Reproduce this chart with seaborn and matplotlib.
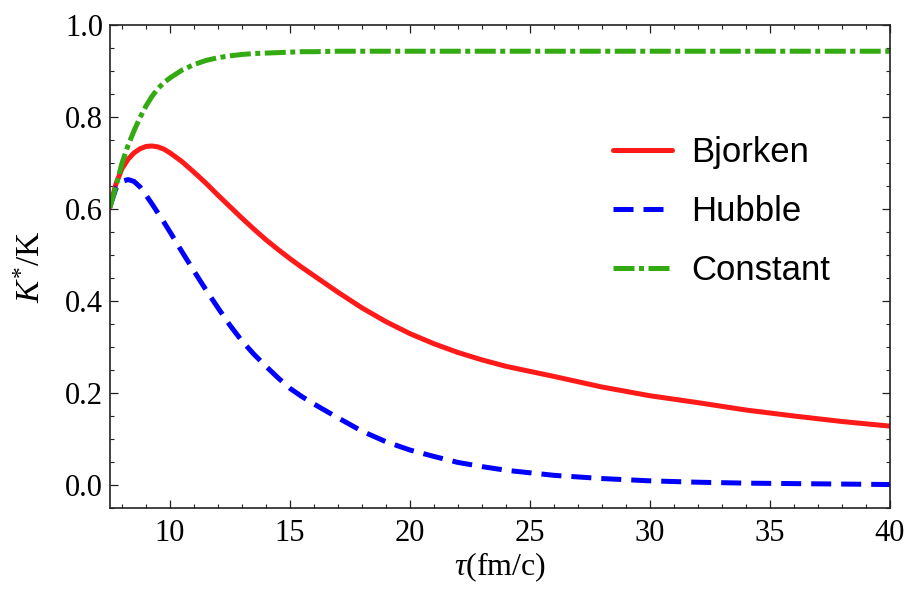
import numpy as np
import pandas as pd
import seaborn as sns
import matplotlib
matplotlib.use("Agg")
import matplotlib.pyplot as plt
from matplotlib.ticker import MultipleLocator

# ---- data ----
tau = [7.5, 7.75, 8.0, 8.25, 8.5, 8.75, 9.0, 9.25, 9.5, 9.75, 10.0, 10.5, 11.0,
       11.5, 12.0, 12.5, 13.0, 13.5, 14.0, 14.5, 15.0, 15.5, 16.0, 17.0, 18.0,
       19.0, 20.0, 21.0, 22.0, 23.0, 24.0, 26.0, 28.0, 30.0, 32.0, 34.0, 36.0,
       38.0, 40.0]
bjorken = [0.605, 0.655, 0.688, 0.708, 0.722, 0.731, 0.736, 0.737, 0.735, 0.730,
           0.722, 0.703, 0.680, 0.656, 0.630, 0.605, 0.580, 0.556, 0.533, 0.512,
           0.492, 0.473, 0.455, 0.419, 0.385, 0.355, 0.329, 0.307, 0.288, 0.272,
           0.258, 0.236, 0.213, 0.194, 0.179, 0.163, 0.150, 0.138, 0.128]
hubble = [0.607, 0.645, 0.660, 0.664, 0.660, 0.648, 0.630, 0.611, 0.591, 0.571,
          0.550, 0.507, 0.465, 0.424, 0.385, 0.347, 0.313, 0.284, 0.258, 0.233,
          0.210, 0.192, 0.176, 0.146, 0.117, 0.094, 0.076, 0.062, 0.049, 0.040,
          0.032, 0.021, 0.014, 0.009, 0.006, 0.004, 0.003, 0.002, 0.001]
constant = [0.603, 0.650, 0.700, 0.738, 0.770, 0.799, 0.824, 0.845, 0.862, 0.875,
            0.885, 0.902, 0.914, 0.923, 0.929, 0.933, 0.936, 0.938, 0.939, 0.940,
            0.941, 0.942, 0.942, 0.943, 0.943, 0.943, 0.943, 0.943, 0.943, 0.943,
            0.943, 0.943, 0.943, 0.943, 0.943, 0.943, 0.943, 0.943, 0.943]
series_names = ["Bjorken", "Hubble", "Constant"]
series_colors = ["#ff1a1a", "#0000ff", "#33aa11"]
x_ticks = [10, 15, 20, 25, 30, 35, 40]
y_ticks = [0.0, 0.2, 0.4, 0.6, 0.8, 1.0]

sns.set_theme(style="ticks")
plt.rcParams["font.family"] = ["Liberation Serif", "DejaVu Serif"]
plt.rcParams["mathtext.fontset"] = "custom"
plt.rcParams["mathtext.rm"] = "Liberation Serif"
plt.rcParams["mathtext.it"] = "Liberation Serif:italic"
plt.rcParams["text.color"] = "black"
plt.rcParams["axes.labelcolor"] = "black"

fig = plt.figure(figsize=(9.1, 5.9), dpi=100)
ax = fig.add_axes([0.1209, 0.139, 0.978 - 0.1209, 0.9576 - 0.139])

styles = ["-", (0, (4.0, 2.0)), (0, (4.2, 0.9, 1.0, 0.9))]
for name, vals, col, ls in zip(series_names, [bjorken, hubble, constant],
                               series_colors, styles):
    sns.lineplot(x=tau, y=vals, ax=ax, color=col, linewidth=3.6,
                 linestyle=ls, label=name, estimator=None, sort=False)
for ln in ax.lines:
    ln.set_solid_joinstyle("round")
    ln.set_dash_capstyle("butt")

ax.set_xlim(7.5, 40)
ax.set_ylim(-0.05, 1.0)
ax.set_xticks(x_ticks)
ax.set_yticks(y_ticks)
ax.set_xticklabels([str(v) for v in x_ticks])
ax.set_yticklabels([f"{v:.1f}" for v in y_ticks])
ax.xaxis.set_minor_locator(MultipleLocator(1))
ax.yaxis.set_minor_locator(MultipleLocator(0.05))
ax.tick_params(which="both", direction="in", top=True, right=True,
               colors="#222222", labelcolor="black")
ax.tick_params(which="major", length=5.8, width=0.9, labelsize=22)
ax.tick_params(axis="x", which="major", pad=8)
ax.tick_params(axis="y", which="major", pad=5)
ax.tick_params(which="minor", length=3.2, width=0.8)
for sp in ax.spines.values():
    sp.set_linewidth(1.2)
    sp.set_color("#222222")

ax.set_xlabel(r"$\tau$(fm/c)", fontsize=23, labelpad=2)
ax.set_ylabel(r"$K^{*}$/K", fontsize=24, labelpad=13)

leg = ax.legend(loc="center left", bbox_to_anchor=(0.674, 0.642),
                bbox_transform=fig.transFigure, frameon=False,
                prop={"family": "Liberation Sans", "size": 25},
                handlelength=1.7, handletextpad=0.55, labelspacing=0.75,
                borderpad=0, borderaxespad=0)
for t in leg.get_texts():
    t.set_color("black")

fig.savefig("out.png", dpi=100)
